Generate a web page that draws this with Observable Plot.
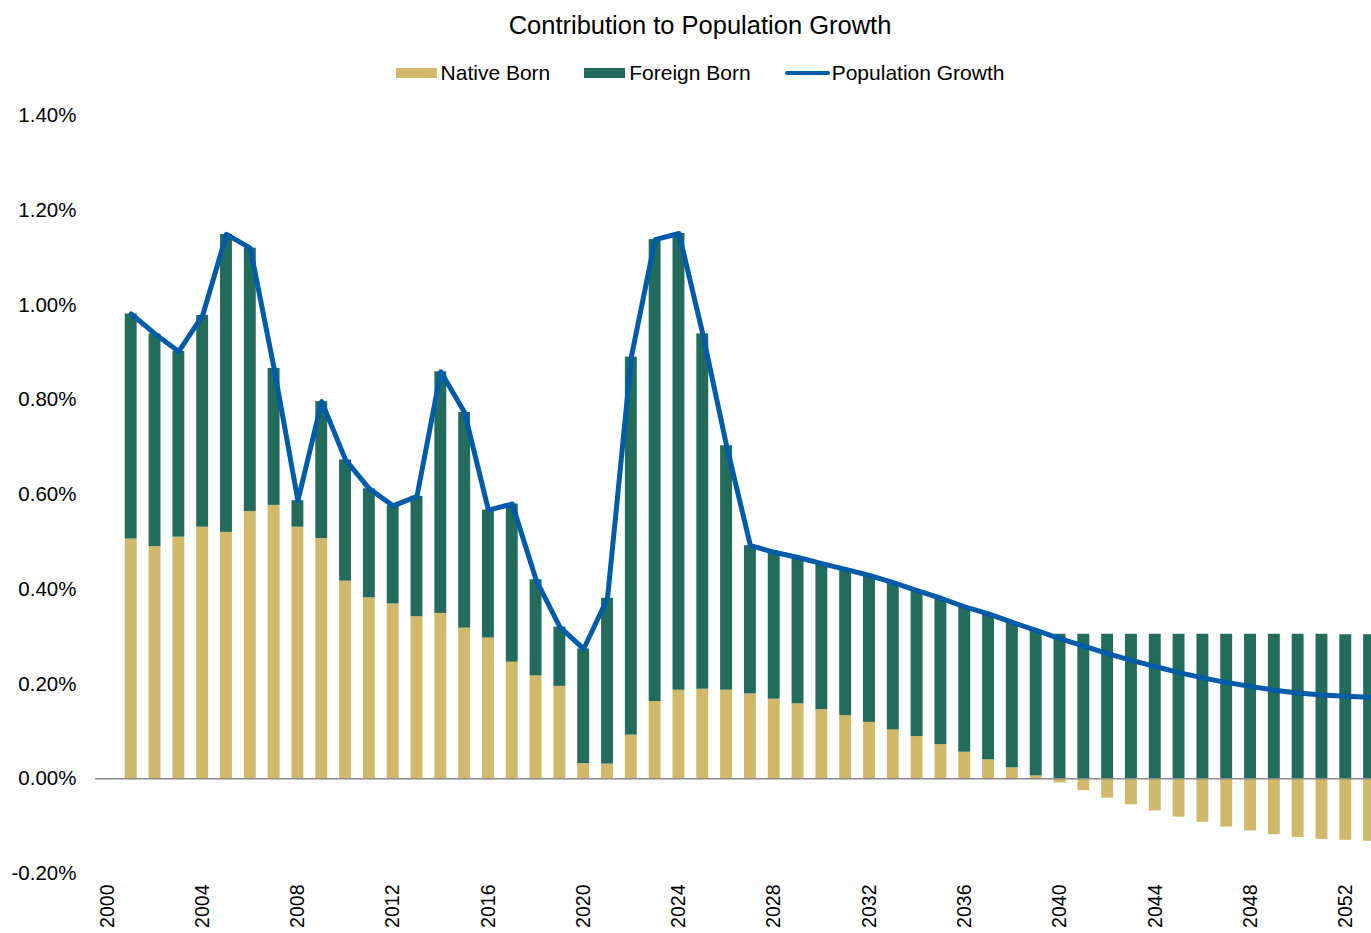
<!DOCTYPE html>
<html>
<head>
<meta charset="utf-8">
<script src="https://cdn.jsdelivr.net/npm/d3@7"></script>
<script src="https://cdn.jsdelivr.net/npm/@observablehq/plot@0.6"></script>
<style>
  html, body { margin: 0; padding: 0; background: #fff; }
  body { width: 1371px; height: 933px; overflow: hidden; font-family: "Liberation Sans", Arial, Helvetica, sans-serif; color: #000; }
  .title { height: 50px; line-height: 50px; font-size: 25.5px; text-align: center; padding-left: 29px; box-sizing: border-box; width: 1371px; }
  .legend { height: 46px; display: flex; justify-content: center; align-items: center; font-size: 21px; padding-left: 29px; box-sizing: border-box; width: 1371px; }
  .item { display: flex; align-items: center; margin: 0 17px; }
  .sw { display: inline-block; width: 41px; height: 10px; margin-right: 4px; }
  .ln { display: inline-block; width: 45px; height: 4px; border-radius: 2px; margin-right: 2px; }
  #chart svg { display: block; }
</style>
</head>
<body>
<div class="title">Contribution to Population Growth</div>
<div class="legend" id="legend"></div>
<div id="chart"></div>
<script>
// ---- Data (percent units) ----
const years = [2001,2002,2003,2004,2005,2006,2007,2008,2009,2010,
  2011,2012,2013,2014,2015,2016,2017,2018,2019,2020,
  2021,2022,2023,2024,2025,2026,2027,2028,2029,2030,
  2031,2032,2033,2034,2035,2036,2037,2038,2039,2040,
  2041,2042,2043,2044,2045,2046,2047,2048,2049,2050,
  2051,2052,2053];

const nativeBorn = [0.506,0.490,0.510,0.531,0.520,0.564,0.577,0.531,0.507,0.417,
  0.382,0.369,0.342,0.349,0.318,0.297,0.246,0.217,0.195,0.032,
  0.031,0.092,0.163,0.187,0.189,0.187,0.179,0.168,0.158,0.146,
  0.133,0.119,0.103,0.089,0.072,0.056,0.040,0.023,0.006,-0.009,
  -0.025,-0.041,-0.055,-0.068,-0.081,-0.092,-0.102,-0.110,-0.118,-0.124,
  -0.128,-0.130,-0.132];

const foreignBorn = [0.475,0.449,0.392,0.447,0.629,0.556,0.289,0.056,0.289,0.256,
  0.230,0.207,0.254,0.510,0.455,0.270,0.334,0.203,0.125,0.242,
  0.350,0.798,0.975,0.964,0.750,0.516,0.313,0.310,0.309,0.308,
  0.309,0.310,0.311,0.308,0.309,0.307,0.308,0.307,0.307,0.305,
  0.305,0.305,0.305,0.305,0.305,0.305,0.305,0.305,0.305,0.305,
  0.305,0.304,0.304];

const xCategories = [2000, ...years];
const xTickYears = [2000,2004,2008,2012,2016,2020,2024,2028,2032,2036,2040,2044,2048,2052];
const yTicks = [-0.2,0,0.2,0.4,0.6,0.8,1.0,1.2,1.4];

const seriesNames = ["Native Born", "Foreign Born", "Population Growth"];
const seriesColors = ["#D1B96B", "#236B5B", "#005BA8"];

// ---- Build tables ----
const barRows = [];
years.forEach((y, i) => {
  barRows.push({year: y, group: seriesNames[0], value: nativeBorn[i]});
  barRows.push({year: y, group: seriesNames[1], value: foreignBorn[i]});
});
const growthRows = years.map((y, i) => ({year: y, value: nativeBorn[i] + foreignBorn[i]}));

// ---- Legend ----
const legend = document.getElementById("legend");
seriesNames.forEach((name, i) => {
  const item = document.createElement("div");
  item.className = "item";
  const sw = document.createElement("span");
  sw.className = i < 2 ? "sw" : "ln";
  sw.style.background = seriesColors[i];
  const label = document.createElement("span");
  label.textContent = name;
  item.appendChild(sw);
  item.appendChild(label);
  legend.appendChild(item);
});

// ---- Chart ----
const chart = Plot.plot({
  width: 1371,
  height: 837,
  marginTop: 19,
  marginBottom: 60,
  marginLeft: 95,
  marginRight: -10,
  style: {fontFamily: "'Liberation Sans', Arial, Helvetica, sans-serif", fontSize: "20.5px", color: "#000", background: "#fff", overflow: "hidden"},
  x: {type: "band", domain: xCategories, paddingInner: 0.5, paddingOuter: 0.25, label: null},
  y: {domain: [-0.2, 1.4], label: null},
  color: {domain: seriesNames.slice(0, 2), range: seriesColors.slice(0, 2)},
  marks: [
    Plot.barY(barRows, {x: "year", y: "value", fill: "group", order: seriesNames.slice(0, 2)}),
    Plot.ruleY([0], {stroke: "#8a8a8a", strokeWidth: 1.5}),
    Plot.lineY(growthRows, {x: "year", y: "value", stroke: seriesColors[2], strokeWidth: 5}),
    Plot.axisY({ticks: yTicks, tickSize: 0, tickPadding: 19, tickFormat: d => d.toFixed(2) + "%", fill: "#000"}),
    Plot.axisX({ticks: xTickYears, tickSize: 0, tickPadding: 11, tickRotate: -90, tickFormat: d => String(d), fontSize: "19.5px", fill: "#000"})
  ]
});
document.getElementById("chart").appendChild(chart);
</script>
</body>
</html>
